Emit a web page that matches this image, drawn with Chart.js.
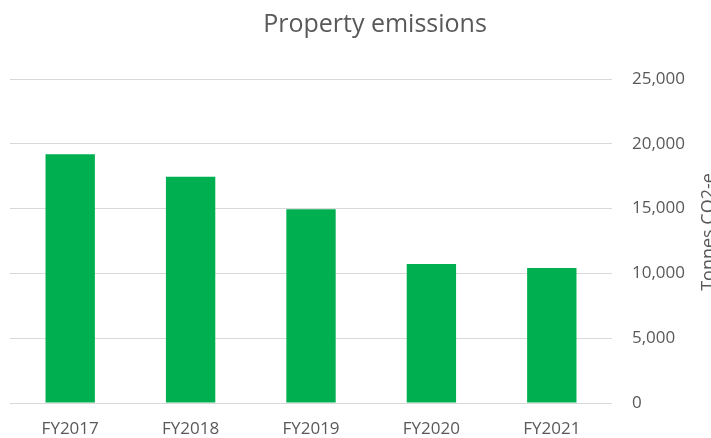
<!DOCTYPE html>
<html>
<head>
<meta charset="utf-8">
<script src="https://cdn.jsdelivr.net/npm/chart.js@4"></script>
<style>
  html, body { margin: 0; padding: 0; background: #ffffff; }
  #wrap { width: 711px; height: 438px; position: relative; }
</style>
</head>
<body>
<div id="wrap"><canvas id="grafica"></canvas></div>
<script>
// datos
const years = ['FY2017', 'FY2018', 'FY2019', 'FY2020', 'FY2021'];
const emissions = [19200, 17450, 14950, 10720, 10420];
const yTicks = [0, 5000, 10000, 15000, 20000, 25000];

const textColor = '#595959';
const fontName = "'Open Sans', 'DejaVu Sans', sans-serif";

// titulo del grafico y del eje derecho (leido de abajo hacia arriba)
const textosPlugin = {
    id: 'textos',
    afterDraw(chart) {
        const ctx = chart.ctx;
        const area = chart.chartArea;
        ctx.save();
        ctx.fillStyle = textColor;
        ctx.textAlign = 'center';
        ctx.textBaseline = 'middle';
        ctx.font = '25px ' + fontName;
        ctx.fillText('Property emissions', 375, 25);

        ctx.translate(714, (area.top + area.bottom) / 2 - 9);
        ctx.rotate(-Math.PI / 2);
        ctx.font = '18px ' + fontName;
        ctx.textBaseline = 'alphabetic';
        ctx.fillText('Tonnes CO2-e', 0, 0);
        ctx.restore();
    }
};

new Chart(document.getElementById('grafica'), {
    type: 'bar',
    data: {
        labels: years,
        datasets: [{
            label: 'Property emissions',
            data: emissions,
            backgroundColor: '#00b050',
            borderWidth: 0,
            categoryPercentage: 1,
            barPercentage: 0.41
        }]
    },
    options: {
        responsive: true,
        maintainAspectRatio: false,
        animation: false,
        layout: { padding: { left: 10, right: 0, top: 79, bottom: 0 } },
        plugins: {
            legend: { display: false },
            tooltip: { enabled: false },
            title: { display: false }
        },
        scales: {
            x: {
                grid: { display: false },
                border: { display: false },
                ticks: {
                    color: textColor,
                    font: { family: fontName, size: 17 },
                    padding: 8
                },
                afterFit(scale) { scale.height = 35; }
            },
            y: {
                position: 'right',
                min: 0,
                max: 25000,
                afterBuildTicks(scale) {
                    scale.ticks = yTicks.map(v => ({ value: v }));
                },
                grid: { color: '#d9d9d9', lineWidth: 1, drawTicks: false },
                border: { display: false },
                ticks: {
                    color: textColor,
                    font: { family: fontName, size: 17 },
                    padding: 20,
                    callback: v => v.toLocaleString('en-US')
                },
                afterFit(scale) { scale.width = 99; }
            }
        }
    },
    plugins: [textosPlugin]
});
</script>
</body>
</html>
